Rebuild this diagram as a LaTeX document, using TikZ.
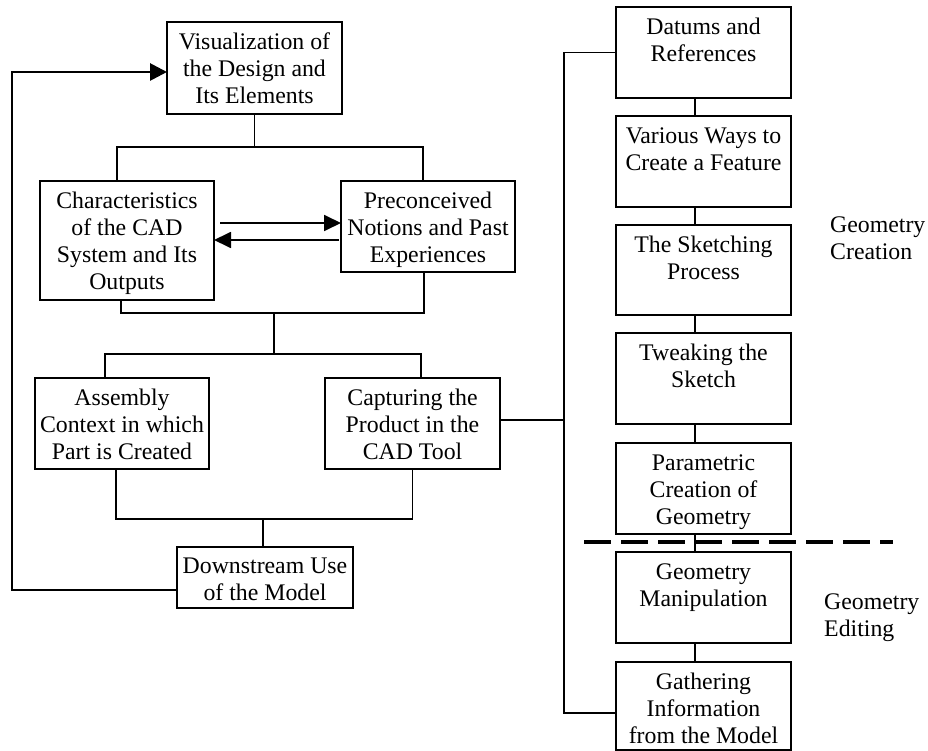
\documentclass[tikz,border=0pt]{standalone}
\usepackage{fontspec}
\setmainfont{Liberation Serif}
\usetikzlibrary{arrows.meta}
% fixed-size box with its lines set from the top
\newcommand\boxlines[3]{\parbox[c][#1][t]{#2}{\centering\rule{0pt}{27.5pt}#3}}
\newcommand\sidelines[1]{\parbox[t]{100pt}{\raggedright\rule{0pt}{28.5pt}#1}}
\tikzset{
  blk/.style={draw, line width=1.5pt, inner sep=0pt, outer sep=0pt, anchor=north west},
  link/.style={line width=1.5pt},
  arr/.style={line width=1.8pt, -{Triangle[length=17pt,width=16pt]}},
  back/.style={line width=2.8pt, -{Triangle[length=17pt,width=17pt]}},
  split/.style={line width=4.5pt, dash pattern=on 27pt off 10pt},
  side/.style={inner sep=0pt, anchor=north west}
}
\begin{document}
\begin{tikzpicture}[x=1pt, y=-1pt, font=\fontsize{23.8}{27}\selectfont]
\useasboundingbox (0,0) rectangle (928,751);

% left flow
\node[blk] (vis)   at (167,22)  {\boxlines{92pt}{175pt}{Visualization of\\the Design and\\Its Elements}};
\node[blk] (chars) at (40,181)  {\boxlines{119pt}{174pt}{Characteristics\\of the CAD\\System and Its\\Outputs}};
\node[blk] (prec)  at (341,181) {\boxlines{91pt}{174pt}{Preconceived\\Notions and Past\\Experiences}};
\node[blk] (asm)   at (35,378)  {\boxlines{91pt}{174pt}{Assembly\\Context in which\\Part is Created}};
\node[blk] (cap)   at (325,378) {\boxlines{91pt}{175pt}{Capturing the\\Product in the\\CAD Tool}};
\node[blk] (down)  at (177,547) {\parbox[c][61pt][t]{176pt}{\centering\rule{0pt}{26pt}Downstream Use\\of the Model}};

% right column
\node[blk] (datums) at (616,7)   {\boxlines{91pt}{175pt}{Datums and\\References}};
\node[blk] (various) at (616,116) {\boxlines{91pt}{175pt}{Various Ways to\\Create a Feature}};
\node[blk] (sketch) at (616,225) {\boxlines{90pt}{175pt}{The Sketching\\Process}};
\node[blk] (tweak)  at (616,333) {\boxlines{91pt}{175pt}{Tweaking the\\Sketch}};
\node[blk] (param)  at (616,443) {\boxlines{91pt}{175pt}{Parametric\\Creation of\\Geometry}};
\node[blk] (manip)  at (616,552) {\boxlines{91pt}{175pt}{Geometry\\Manipulation}};
\node[blk] (gather) at (616,662) {\boxlines{88pt}{175pt}{Gathering\\Information\\from the Model}};

\node[side] (gc) at (830,203.5) {\sidelines{Geometry\\Creation}};
\node[side] (ge) at (824,580.5) {\sidelines{Geometry\\Editing}};

% junction points
\coordinate (j1) at (254.5,147);
\coordinate (j2) at (274,313);
\coordinate (j3) at (274,354);
\coordinate (j4) at (263,519);
\coordinate (fb) at (12,590);
\coordinate (bt) at (564,52.5);
\coordinate (bm) at (564,420);
\coordinate (bb) at (564,713);
\coordinate (dl) at (584,542);
\coordinate (dr) at (893,542);

% tree connectors
\draw[link] (vis.south) -- (j1);
\draw[link] ([xshift=-10pt]chars.north) |- (j1) -| ([xshift=-5pt]prec.north);
\draw[link] ([xshift=-6pt]chars.south) |- (j2) -| ([xshift=-4pt]prec.south);
\draw[link] (j2) -- (j3);
\draw[link] ([xshift=-17pt]asm.north) |- (j3) -| ([xshift=8.5pt]cap.north);
\draw[link] ([xshift=-6pt]asm.south) |- (j4) -| (cap.south);
\draw[link] (j4) -- ([xshift=-2pt]down.north);

% two-way exchange
\draw[arr] ([shift={(6pt,17.5pt)}]chars.east) -- ([yshift=3.5pt]prec.west);
\draw[arr] ([shift={(-2pt,-13.5pt)}]prec.west) -- ([yshift=0.5pt]chars.east);

% feedback loop
\draw[back] ([yshift=-12.5pt]down.west) -- (fb) |- ([yshift=-4pt]vis.west);

% bus to the right column
\draw[link] ([yshift=3.5pt]cap.east) -- (bm);
\draw[link] (datums.west) -- (bt) -- (bb) -- ([yshift=-7pt]gather.west);

% chain of the right column
\draw[link] ([xshift=-8.5pt]datums.south) -- ([xshift=-8.5pt]various.north);
\draw[link] ([xshift=-8.5pt]various.south) -- ([xshift=-8.5pt]sketch.north);
\draw[link] ([xshift=-8.5pt]sketch.south) -- ([xshift=-8.5pt]tweak.north);
\draw[link] ([xshift=-8.5pt]tweak.south) -- ([xshift=-8.5pt]param.north);
\draw[link] ([xshift=-8.5pt]param.south) -- ([xshift=-8.5pt]manip.north);
\draw[link] ([xshift=-8.5pt]manip.south) -- ([xshift=-8.5pt]gather.north);

% creation / editing divide
\draw[split] (dl) -- (dr);
\end{tikzpicture}
\end{document}
